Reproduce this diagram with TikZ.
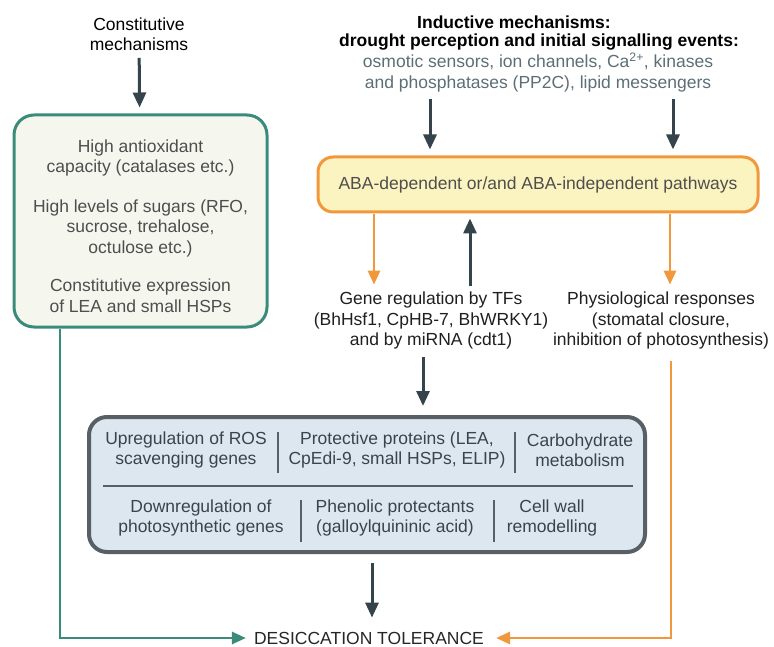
\documentclass[tikz,border=0pt]{standalone}
\usepackage{fontspec}
\setmainfont{Liberation Sans}
\usetikzlibrary{arrows.meta,positioning}
\definecolor{slate}{RGB}{52,67,76}
\definecolor{constgreen}{RGB}{58,140,122}
\definecolor{constfill}{RGB}{245,247,239}
\definecolor{abaorange}{RGB}{242,152,60}
\definecolor{abafill}{RGB}{252,244,192}
\definecolor{protfill}{RGB}{221,231,240}
\definecolor{protedge}{RGB}{88,95,101}
\definecolor{greytext}{RGB}{78,78,78}
\definecolor{sigtext}{RGB}{92,110,118}
\definecolor{prottext}{RGB}{58,68,76}
\tikzset{
	lbl/.style={align=center, inner sep=2pt, font=\fontsize{17.5}{20.5}\selectfont},
	darrow/.style={draw=slate, line width=3pt, -{Triangle[width=13pt,length=15pt]}},
	oarrow/.style={draw=abaorange, line width=2.8pt, -{Triangle[width=12pt,length=14pt]}},
	garrow/.style={draw=constgreen, line width=2.8pt, -{Triangle[width=12pt,length=14pt]}},
	sepline/.style={draw=protedge, line width=1.2pt},
}
\begin{document}
\begin{tikzpicture}[x=1pt,y=-1pt]
	\useasboundingbox (0,0) rectangle (774,647);
	% constitutive side
	\node[lbl, text=black] (ctitle) at (139,34) {Constitutive\\mechanisms};
	\node[lbl, text=greytext, draw=constgreen, line width=3pt, fill=constfill, rounded corners=20pt,
		minimum width=253pt, minimum height=212pt] (cbox) at (140.5,221)
		{\rule{0pt}{23pt}High antioxidant\\capacity (catalases etc.)\\[19pt]
		 High levels of sugars (RFO,\\sucrose, trehalose,\\octulose etc.)\\[18pt]
		 Constitutive expression\\of LEA and small HSPs};
	% inductive side
	\node[lbl, font=\fontsize{17.5}{20.5}\selectfont\bfseries] (ind1) at (514,22) {Inductive mechanisms:};
	\node[lbl, font=\fontsize{17.5}{20.5}\selectfont\bfseries] (ind2) at (539,42) {drought perception and initial signalling events:};
	\node[lbl, text=sigtext] (sig) at (538,72.5) {osmotic sensors, ion channels, Ca\textsuperscript{2+}, kinases\\and phosphatases (PP2C), lipid messengers};
	\node[lbl, text=greytext, draw=abaorange, line width=3pt, fill=abafill, rounded corners=15pt,
		minimum width=440pt, minimum height=55pt] (aba) at (538,184.5) {ABA-dependent or/and ABA-independent pathways};
	\node[lbl, text=black!88] (gene) at (431,320.5) {Gene regulation by TFs\\(BhHsf1, CpHB-7, BhWRKY1)\\and by miRNA (cdt1)};
	\node[lbl, text=black!88] (phys) at (661,320.5) {Physiological responses\\(stomatal closure,\\inhibition of photosynthesis)};
	% protective responses
	\node[draw=protedge, line width=4pt, fill=protfill, rounded corners=18pt,
		minimum width=556pt, minimum height=135pt] (pbox) at (367,484.5) {};
	\node[lbl, text=prottext] (ros) at (186,450) {Upregulation of ROS\\scavenging genes};
	\node[lbl, text=prottext] (lea) at (397,450) {Protective proteins (LEA,\\CpEdi-9, small HSPs, ELIP)};
	\node[lbl, text=prottext] (carb) at (580,450) {Carbohydrate\\metabolism};
	\node[lbl, text=prottext] (photo) at (201,518) {Downregulation of\\photosynthetic genes};
	\node[lbl, text=prottext] (phen) at (395,518) {Phenolic protectants\\(galloylquininic acid)};
	\node[lbl, text=prottext] (wall) at (552,518) {Cell wall\\remodelling};
	\draw[sepline] (103,486) -- (633,486);
	\draw[sepline] (278,432) -- (278,473);
	\draw[sepline] (515,432) -- (515,473);
	\draw[sepline] (301,500) -- (301,542);
	\draw[sepline] (494,500) -- (494,542);
	\node[lbl, text=black!85] (tol) at (369,638) {DESICCATION TOLERANCE};
	% connectors
	\draw[darrow, shorten <=5pt, shorten >=6pt] (ctitle) -- (cbox);
	\draw[darrow, shorten <=5pt, shorten >=6pt] ([xshift=-108pt]sig.south) -- ([xshift=-108pt]sig.south |- aba.north);
	\draw[darrow, shorten <=5pt, shorten >=6pt] ([xshift=135pt]sig.south) -- ([xshift=135pt]sig.south |- aba.north);
	\draw[oarrow, shorten <=1pt, shorten >=5pt] ([xshift=-164pt]aba.south) -- ([xshift=-164pt]aba.south |- gene.north);
	\draw[oarrow, shorten <=1pt, shorten >=5pt] ([xshift=132pt]aba.south) -- ([xshift=132pt]aba.south |- phys.north);
	\draw[darrow, shorten <=4pt, shorten >=5pt] ([xshift=39pt]gene.north) -- ([xshift=39pt]gene.north |- aba.south);
	\draw[darrow, shorten <=6pt, shorten >=9pt] ([xshift=-8pt]gene.south) -- ([xshift=-8pt]gene.south |- pbox.north);
	\draw[darrow, shorten <=9pt, shorten >=12pt] ([xshift=5pt]pbox.south) -- ([xshift=3pt]tol.north);
	\draw[garrow, shorten >=6pt] ([xshift=-80.5pt]cbox.south) |- (tol.west);
	\draw[oarrow, shorten <=10pt, shorten >=10pt] ([xshift=10pt]phys.south) |- (tol.east);
\end{tikzpicture}
\end{document}
